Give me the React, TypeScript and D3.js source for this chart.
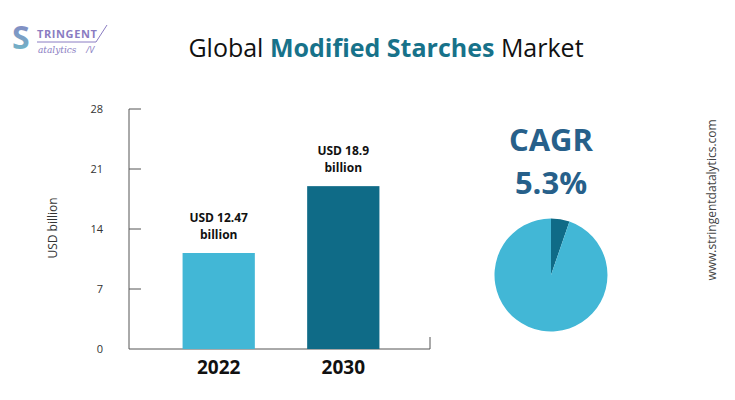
import React, { useEffect, useRef } from 'react';
import * as d3 from 'd3';

// data
const years = ['2022', '2030'];
const barValues = [11.2, 19.0]; // drawn heights as shown
const valueLabels = [['USD 12.47', 'billion'], ['USD 18.9', 'billion']];
const yTicks = [0, 7, 14, 21, 28];
const cagrShare = [5.3, 94.7];
const barColors = ['#42b7d6', '#0f6b87'];

const W = 735;
const H = 400;

const App: React.FC = () => {
  const svgRef = useRef<SVGSVGElement>(null);

  useEffect(() => {
    if (!svgRef.current) return;
    const svg = d3.select(svgRef.current);
    svg.selectAll('*').remove();

    const font = "'Open Sans', 'Noto Sans', sans-serif";

    svg.append('rect').attr('width', W).attr('height', H).attr('fill', '#fff');

    // logo
    const logo = svg.append('g');
    const grad = svg.append('defs').append('linearGradient')
      .attr('id', 'sgrad').attr('x1', 0).attr('y1', 0).attr('x2', 0).attr('y2', 1);
    grad.append('stop').attr('offset', '0%').attr('stop-color', '#8a7cc2');
    grad.append('stop').attr('offset', '100%').attr('stop-color', '#6cc0c8');
    logo.append('text')
      .attr('x', 12).attr('y', 49)
      .style('font-family', font).style('font-size', '32px').style('font-weight', 700)
      .attr('fill', 'url(#sgrad)')
      .text('S');
    logo.append('text')
      .attr('x', 37).attr('y', 38)
      .style('font-family', font).style('font-size', '11px').style('font-weight', 700)
      .style('letter-spacing', '0.6px')
      .attr('fill', '#8a7cc2')
      .text('TRINGENT');
    logo.append('line')
      .attr('x1', 37).attr('x2', 96).attr('y1', 42).attr('y2', 42)
      .attr('stroke', '#8a7cc2').attr('stroke-width', 1);
    logo.append('line')
      .attr('x1', 96).attr('x2', 107).attr('y1', 42).attr('y2', 25)
      .attr('stroke', '#8a7cc2').attr('stroke-width', 1);
    logo.append('text')
      .attr('x', 38).attr('y', 53)
      .style('font-family', "'DejaVu Serif', serif").style('font-size', '9px').style('font-style', 'italic')
      .attr('fill', '#8a7cc2')
      .text('atalytics');
    logo.append('text')
      .attr('x', 86).attr('y', 53)
      .style('font-family', font).style('font-size', '9px').style('font-style', 'italic')
      .attr('fill', '#8a7cc2')
      .text('/V');

    // title
    const title = svg.append('text')
      .attr('x', 386).attr('y', 57)
      .attr('text-anchor', 'middle')
      .style('font-family', font).style('font-size', '25px')
      .attr('fill', '#111');
    title.append('tspan').text('Global ');
    title.append('tspan').attr('fill', '#17728a').style('font-weight', 700).text('Modified Starches');
    title.append('tspan').text(' Market');

    // bar chart
    const y = d3.scaleLinear().domain([0, 28]).range([349, 109]);
    const x = d3.scaleBand<string>()
      .domain(years)
      .range([129, 433])
      .paddingInner(0.42)
      .paddingOuter(0.43);

    const axisColor = '#555';
    svg.append('line')
      .attr('x1', 129).attr('x2', 129).attr('y1', y(28)).attr('y2', y(0))
      .attr('stroke', axisColor).attr('stroke-width', 1);
    svg.append('line')
      .attr('x1', 129).attr('x2', 430).attr('y1', y(0)).attr('y2', y(0))
      .attr('stroke', axisColor).attr('stroke-width', 1);
    svg.append('line')
      .attr('x1', 430).attr('x2', 430).attr('y1', y(0) - 12).attr('y2', y(0))
      .attr('stroke', axisColor).attr('stroke-width', 1);

    yTicks.forEach(t => {
      if (t > 0) {
        svg.append('line')
          .attr('x1', 129).attr('x2', 141).attr('y1', y(t)).attr('y2', y(t))
          .attr('stroke', axisColor).attr('stroke-width', 1);
      }
      svg.append('text')
        .attr('x', 103).attr('y', y(t))
        .attr('dy', '0.35em')
        .attr('text-anchor', 'end')
        .style('font-family', font).style('font-size', '11px')
        .attr('fill', '#333')
        .text(String(t));
    });

    svg.append('text')
      .attr('transform', `translate(57,228) rotate(-90)`)
      .attr('text-anchor', 'middle')
      .style('font-family', font).style('font-size', '12px')
      .attr('fill', '#333')
      .text('USD billion');

    years.forEach((yr, i) => {
      const bx = x(yr) || 0;
      const cx = bx + x.bandwidth() / 2;
      svg.append('rect')
        .attr('x', bx).attr('y', y(barValues[i]))
        .attr('width', x.bandwidth())
        .attr('height', y(0) - y(barValues[i]))
        .attr('fill', barColors[i]);
      const top = y(barValues[i]);
      svg.append('text')
        .attr('x', cx).attr('y', top - 31)
        .attr('text-anchor', 'middle')
        .style('font-family', font).style('font-size', '12px').style('font-weight', 700)
        .attr('fill', '#111')
        .text(valueLabels[i][0]);
      svg.append('text')
        .attr('x', cx).attr('y', top - 14)
        .attr('text-anchor', 'middle')
        .style('font-family', font).style('font-size', '12px').style('font-weight', 700)
        .attr('fill', '#111')
        .text(valueLabels[i][1]);
      svg.append('text')
        .attr('x', cx).attr('y', 374)
        .attr('text-anchor', 'middle')
        .style('font-family', font).style('font-size', '19px').style('font-weight', 700)
        .attr('fill', '#111')
        .text(yr);
    });

    // CAGR
    svg.append('text')
      .attr('x', 551).attr('y', 151)
      .attr('text-anchor', 'middle')
      .style('font-family', font).style('font-size', '31px').style('font-weight', 700)
      .attr('fill', '#27608a')
      .text('CAGR');
    svg.append('text')
      .attr('x', 551).attr('y', 194)
      .attr('text-anchor', 'middle')
      .style('font-family', font).style('font-size', '31px').style('font-weight', 700)
      .attr('fill', '#27608a')
      .text('5.3%');

    const pie = d3.pie<number>().sort(null)(cagrShare);
    const arc = d3.arc<d3.PieArcDatum<number>>().innerRadius(0).outerRadius(56.5);
    const pieColors = ['#0f6b87', '#42b7d6'];
    svg.append('g')
      .attr('transform', 'translate(551,275)')
      .selectAll('path')
      .data(pie)
      .join('path')
      .attr('d', arc)
      .attr('fill', (_, i) => pieColors[i]);

    // website
    svg.append('text')
      .attr('transform', 'translate(716,200) rotate(-90)')
      .attr('text-anchor', 'middle')
      .style('font-family', font).style('font-size', '12px')
      .attr('fill', '#444')
      .text('www.stringentdatalytics.com');
  }, []);

  return (
    <div style={{ width: W, height: H, margin: -8 }}>
      <svg ref={svgRef} width={W} height={H} style={{ display: 'block' }} />
    </div>
  );
};

export default App;
